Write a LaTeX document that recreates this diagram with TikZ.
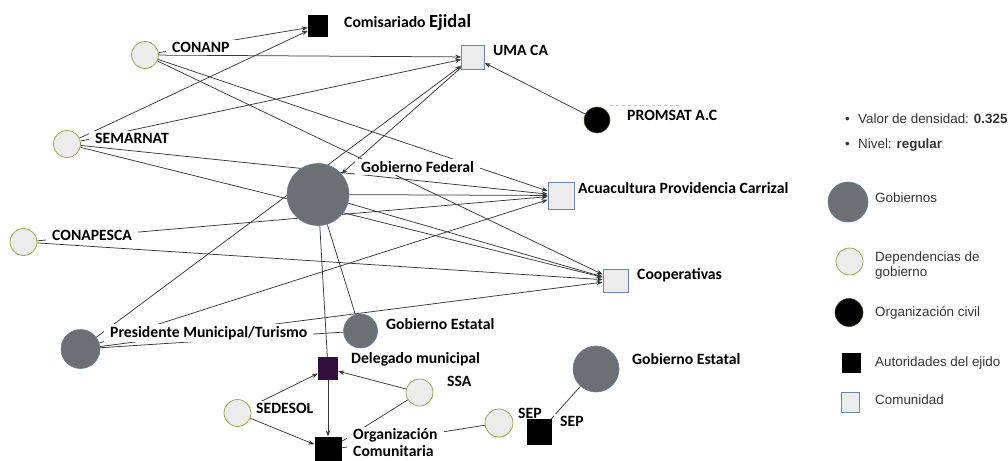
\documentclass[tikz,border=0pt]{standalone}
\usepackage{fontspec}
\setmainfont{Carlito}
\newfontfamily\legfont{Liberation Sans}
\usetikzlibrary{arrows.meta,backgrounds}

\definecolor{gobgray}{RGB}{108,112,116}
\definecolor{gobrim}{RGB}{95,130,170}
\definecolor{depfill}{RGB}{236,236,236}
\definecolor{deprim}{RGB}{165,165,70}
\definecolor{comrim}{RGB}{105,135,175}
\definecolor{delegfill}{RGB}{48,14,62}
\definecolor{relgray}{RGB}{55,55,55}

\begin{document}
\begin{tikzpicture}[x=1pt, y=-1pt,
  gob/.style={circle, fill=gobgray, draw=gobrim, line width=0.6pt, inner sep=0pt},
  dep/.style={circle, fill=depfill, draw=deprim, line width=0.8pt, inner sep=0pt, minimum size=27pt},
  civ/.style={circle, fill=black, draw=deprim!40!black, line width=0.6pt, inner sep=0pt, minimum size=26pt},
  aut/.style={rectangle, fill=black, inner sep=0pt},
  com/.style={rectangle, fill=depfill, draw=comrim, line width=0.7pt, inner sep=0pt},
  lbl/.style={anchor=west, fill=white, inner xsep=6pt, inner ysep=2pt, font=\bfseries\fontsize{15.7}{18}\selectfont},
  leg/.style={anchor=west, inner sep=0pt, text=black!80, align=left, font=\legfont\fontsize{13.4}{15}\selectfont},
  rel/.style={draw=relgray, line width=0.75pt},
  arr/.style={rel, -{Stealth[length=6pt, width=4.5pt]}},
]
  \useasboundingbox (0,0) rectangle (1008,460);

  % Labels
  \node[lbl] (comislbl) at (338,23) {Comisariado {\fontsize{18.5}{20}\selectfont Ejidal}};
  \node[lbl] (conanplbl) at (166,47.5) {CONANP};
  \node[lbl] (umalbl) at (487,50) {UMA CA};
  \node[lbl] (promsatlbl) at (621,115) {PROMSAT A.C};
  \node[lbl] (semarnatlbl) at (89,138) {SEMARNAT};
  \node[lbl] (gobfedlbl) at (355,167) {Gobierno Federal};
  \node[lbl] (acualbl) at (572,188) {Acuacultura Providencia Carrizal};
  \node[lbl] (conapescalbl) at (46,235) {CONAPESCA};
  \node[lbl] (cooplbl) at (631,275) {Cooperativas};
  \node[lbl] (presmunlbl) at (104,333) {Presidente Municipal/Turismo};
  \node[lbl] (gobestlbl) at (380,324) {Gobierno Estatal};
  \node[lbl] (deleglbl) at (345,359) {Delegado municipal};
  \node[lbl] (ssalbl) at (441,381) {SSA};
  \node[lbl] (sedesollbl) at (250,408) {SEDESOL};
  \node[lbl, align=left, font=\bfseries\fontsize{15.7}{17}\selectfont] (orgcomlbl) at (347,443) {Organización\\Comunitaria};
  \node[lbl] (sepdeplbl) at (512,413) {SEP};
  \node[lbl] (sepautlbl) at (554,421) {SEP};
  \node[lbl] (gobestblbl) at (626,359) {Gobierno Estatal};
  \draw[black!25, dashed] (610,105) -- (680,105);

  % Actors
  \node[aut, minimum width=20pt, minimum height=22pt] (comis) at (318,26) {};
  \node[dep] (conanp) at (145,55) {};
  \node[com, minimum width=23pt, minimum height=24pt] (uma) at (473,57) {};
  \node[civ] (promsat) at (597,120) {};
  \node[dep] (semarnat) at (67,144) {};
  \node[gob, minimum size=62pt] (gobfed) at (318,194.5) {};
  \node[com, minimum width=26pt, minimum height=27pt] (acua) at (561,195.5) {};
  \node[dep] (conapesca) at (23.5,242) {};
  \node[com, minimum width=25pt, minimum height=23pt] (coop) at (615.5,280.5) {};
  \node[gob, minimum size=39pt] (presmun) at (80.5,349) {};
  \node[gob, minimum size=34pt] (gobest) at (360.5,331) {};
  \node[aut, fill=delegfill, minimum width=20pt, minimum height=23pt] (deleg) at (328,368.5) {};
  \node[dep] (ssa) at (419.5,392.5) {};
  \node[dep] (sedesol) at (237.5,413) {};
  \node[aut, minimum width=27pt, minimum height=27pt] (orgcom) at (328,450) {};
  \node[dep, minimum size=28pt] (sepdep) at (499,423) {};
  \node[aut, minimum width=25pt, minimum height=26pt] (sepaut) at (539.5,432) {};
  \node[gob, minimum size=46pt] (gobestb) at (596,369) {};

  % Ties
  \begin{scope}[on background layer]
    \draw[arr] (conanp) -- (comis);
    \draw[arr] (semarnat) -- (comis);
    \draw[arr] (conanp) -- (uma);
    \draw[arr] (semarnat) -- (uma);
    \draw[arr, {Stealth[length=6pt, width=4.5pt]}-] (gobfed) -- (uma);
    \draw[arr] (presmun) -- (uma);
    \draw[arr] (promsat) -- (uma);
    \foreach \src in {conanp, semarnat, gobfed, conapesca, presmun}
    {
      \draw[arr] (\src) -- (acua);
      \draw[arr] (\src) -- (coop);
    }
    \draw[rel] (presmun) -- (gobest);
    \draw[rel] (gobfed) -- (gobest);
    \draw[rel] (gobfed) -- (deleg);
    \draw[arr] (sedesol) -- (deleg);
    \draw[arr] (ssa) -- (deleg);
    \draw[arr] (deleg) -- (orgcom);
    \draw[arr] (sedesol) -- (orgcom);
    \draw[rel] (ssa) -- (orgcom);
    \draw[rel] (sepdep) -- (orgcom);
    \draw[rel] (gobestb) -- (sepaut);
  \end{scope}

  % Legend
  \node[leg] (densidad) at (845,119) {\makebox[13pt][l]{\textbullet}Valor de densidad: \textbf{0.325}};
  \node[leg] (nivel) at (845,145) {\makebox[13pt][l]{\textbullet}Nivel: \textbf{regular}};
  \node[gob, minimum size=40pt] (leggob) at (848,202) {};
  \node[leg] (leggoblbl) at (875,198) {Gobiernos};
  \node[dep] (legdep) at (849.5,261.5) {};
  \node[leg] (legdeplbl) at (875,265.5) {Dependencias de\\gobierno};
  \node[civ, minimum size=28pt] (legciv) at (849,312.5) {};
  \node[leg] (legcivlbl) at (875,313) {Organización civil};
  \node[aut, minimum width=19pt, minimum height=20pt] (legaut) at (851.5,363) {};
  \node[leg] (legautlbl) at (875,363) {Autoridades del ejido};
  \node[com, minimum width=18pt, minimum height=20pt] (legcom) at (850,402) {};
  \node[leg] (legcomlbl) at (875,400) {Comunidad};
\end{tikzpicture}
\end{document}
